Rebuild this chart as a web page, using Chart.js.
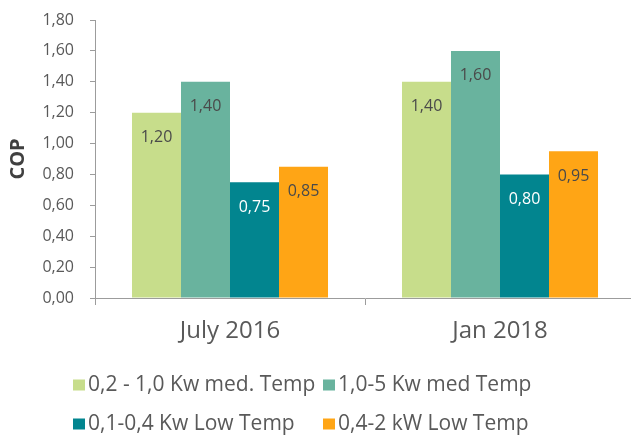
<!DOCTYPE html>
<html>
<head>
<meta charset="utf-8">
<script src="https://cdn.jsdelivr.net/npm/chart.js@4.4.0/dist/chart.umd.min.js"></script>
<style>
html, body { margin: 0; padding: 0; background: #fff; overflow: hidden; }
#wrap { width: 631px; height: 435px; overflow: hidden; }
</style>
</head>
<body>
<div id="wrap"><canvas id="cop" width="635" height="435"></canvas></div>
<script>
// data
var categories = ['July 2016', 'Jan 2018']
var seriesNames = ['0,2 - 1,0 Kw med. Temp', '1,0-5 Kw med Temp', '0,1-0,4 Kw Low Temp', '0,4-2 kW Low Temp']
var medTempSmall = [1.20, 1.40]
var medTempLarge = [1.40, 1.60]
var lowTempSmall = [0.75, 0.80]
var lowTempLarge = [0.85, 0.95]
var yMin = 0
var yMax = 1.8
var yStep = 0.2

var colors = ['#c7dd8b', '#69b39e', '#02858f', '#ffa515']
var labelColors = ['#4a4a4a', '#4a4a4a', '#ffffff', '#4a4a4a']
var fontFamily = '"Open Sans", sans-serif'
var textColor = '#595959'
var axisColor = '#9c9c9c'

function fmt(v) {
  return v.toFixed(2).replace('.', ',')
}

// values drawn inside the top end of each bar
var barLabels = {
  id: 'barLabels',
  afterDatasetsDraw: function (chart) {
    var ctx = chart.ctx
    ctx.save()
    ctx.font = '16px ' + fontFamily
    ctx.textAlign = 'center'
    ctx.textBaseline = 'middle'
    chart.data.datasets.forEach(function (ds, i) {
      var meta = chart.getDatasetMeta(i)
      meta.data.forEach(function (bar, j) {
        ctx.fillStyle = labelColors[i]
        ctx.fillText(fmt(ds.data[j]), bar.x, bar.y + 25)
      })
    })
    ctx.restore()
  }
}

// legend in two columns, two rows
var gridLegend = {
  id: 'gridLegend',
  afterDraw: function (chart) {
    var ctx = chart.ctx
    var cols = [73, 323]
    var rows = [385, 424]
    ctx.save()
    ctx.font = '21px ' + fontFamily
    ctx.textBaseline = 'middle'
    ctx.textAlign = 'left'
    chart.data.datasets.forEach(function (ds, i) {
      var x = cols[i % 2]
      var y = rows[Math.floor(i / 2)]
      ctx.fillStyle = ds.backgroundColor
      ctx.fillRect(x, y - 5.5, 12, 11)
      ctx.fillStyle = textColor
      ctx.fillText(ds.label, x + 15, y)
    })
    ctx.restore()
  }
}

var seriesData = [medTempSmall, medTempLarge, lowTempSmall, lowTempLarge]

new Chart(document.getElementById('cop').getContext('2d'), {
  type: 'bar',
  data: {
    labels: categories,
    datasets: seriesData.map(function (d, i) {
      return {
        label: seriesNames[i],
        data: d,
        backgroundColor: colors[i],
        borderWidth: 0,
        categoryPercentage: 0.726,
        barPercentage: 1
      }
    })
  },
  options: {
    responsive: false,
    animation: false,
    devicePixelRatio: 1,
    layout: { padding: { top: 20, right: 0, bottom: 77, left: 0 } },
    plugins: {
      legend: { display: false },
      tooltip: { enabled: false }
    },
    scales: {
      x: {
        grid: { drawOnChartArea: false, tickLength: 7, color: axisColor },
        border: { color: axisColor },
        ticks: { color: textColor, font: { family: fontFamily, size: 24 }, padding: 12 },
        afterFit: function (s) { s.height = 60 }
      },
      y: {
        min: yMin,
        max: yMax,
        grid: { drawOnChartArea: false, tickLength: 5, color: axisColor },
        border: { color: axisColor },
        ticks: {
          stepSize: yStep,
          color: textColor,
          padding: 16,
          font: { family: fontFamily, size: 16 },
          callback: function (v) { return fmt(v) }
        },
        title: {
          display: true,
          text: 'COP',
          color: '#404040',
          font: { family: fontFamily, size: 20, weight: 'bold' },
          padding: { top: 6, bottom: 4 }
        },
        afterFit: function (s) {
          s.width = 95
          s.paddingTop = 0
          s.paddingBottom = 0
        }
      }
    }
  },
  plugins: [barLabels, gridLegend]
})
</script>
</body>
</html>
